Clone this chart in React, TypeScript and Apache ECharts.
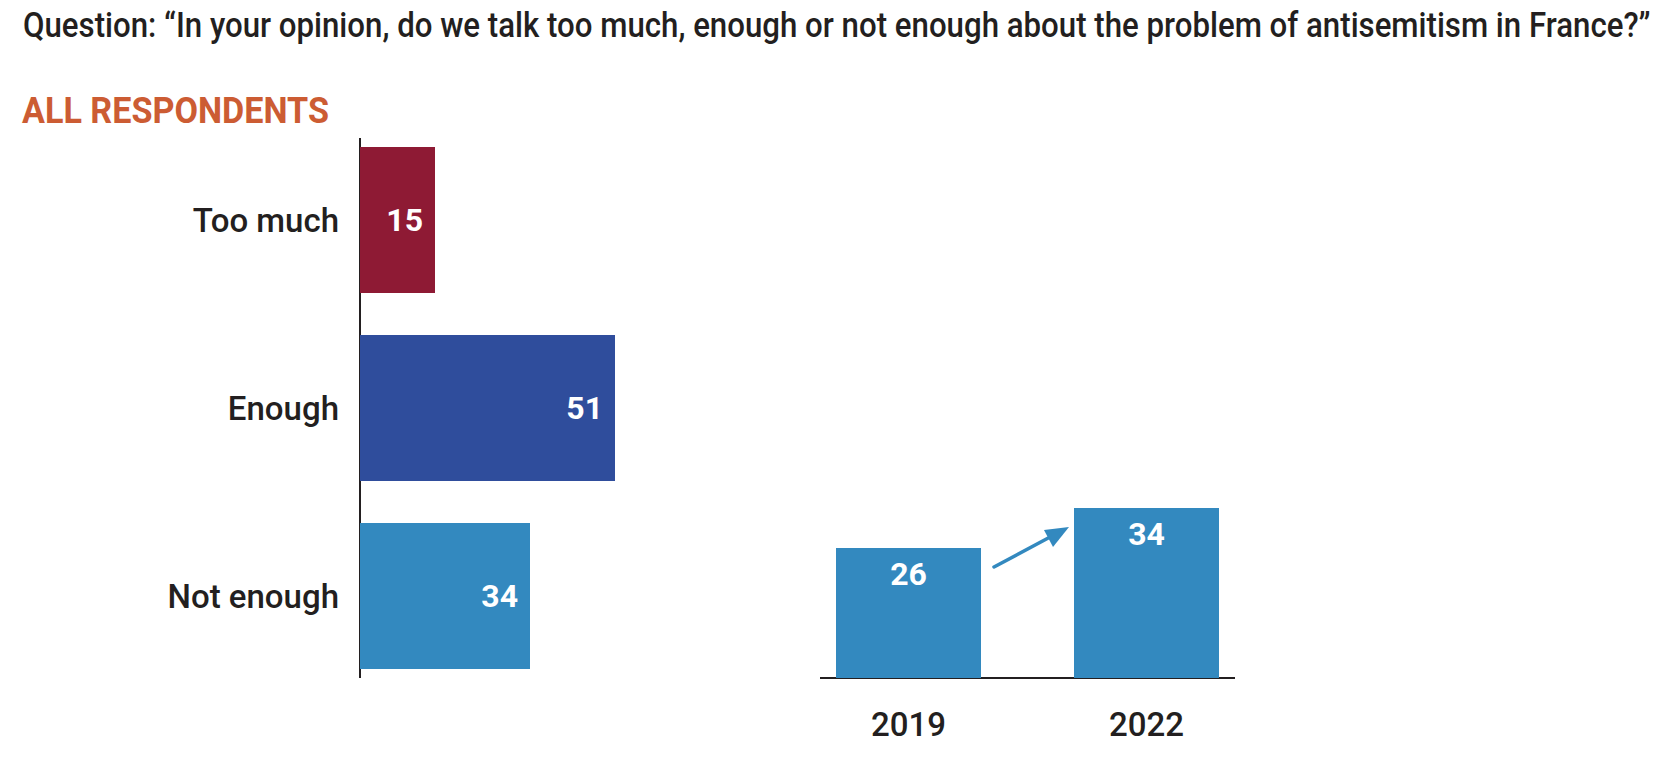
import React, { useEffect, useRef } from "react";
import * as echarts from "echarts";

const FONT = "Roboto, 'Liberation Sans', sans-serif";

const titleText =
  "Question: \u201cIn your opinion, do we talk too much, enough or not enough about the problem of antisemitism in France?\u201d";
const subtitleText = "ALL RESPONDENTS";

const answerCategories = ["Too much", "Enough", "Not enough"];
const answerValues = [15, 51, 34];
const answerColors = ["#8E1A34", "#2F4D9C", "#3389BF"];

const yearCategories = ["2019", "2022"];
const notEnoughByYear = [26, 34];
const yearColor = "#3389BF";

function measure(text: string, font: string): number {
  const c = document.createElement("canvas");
  const ctx = c.getContext("2d");
  if (!ctx) return 0;
  ctx.font = font;
  return ctx.measureText(text).width;
}

export default function App() {
  const ref = useRef<HTMLDivElement>(null);

  useEffect(() => {
    document.body.style.margin = "0";
    if (!ref.current) return;
    const chart = echarts.init(ref.current, undefined, { renderer: "svg" });
    const dark = "#231F20";

    const titleFont = "500 36px Roboto";
    const subFont = "bold 37px Roboto";
    const titleW = measure(titleText, titleFont) || 1627;
    const subW = measure(subtitleText, subFont) || 307;
    const titleScale = 1627 / titleW;
    const subScale = 307 / subW;

    chart.setOption({
      animation: false,
      backgroundColor: "#ffffff",
      grid: [
        { left: 360, top: 126, width: 500, height: 564 },
        { left: 789.5, width: 476, top: 178, height: 500 },
      ],
      xAxis: [
        { type: "value", gridIndex: 0, min: 0, max: 100, show: false },
        {
          type: "category",
          gridIndex: 1,
          data: yearCategories,
          axisLine: { show: false },
          axisTick: { show: false },
          axisLabel: {
            fontSize: 33,
            color: dark,
            fontFamily: FONT,
            fontWeight: 500,
            margin: 30,
          },
        },
      ],
      yAxis: [
        {
          type: "category",
          gridIndex: 0,
          data: answerCategories,
          inverse: true,
          axisLine: { show: false },
          axisTick: { show: false },
          axisLabel: {
            fontSize: 33,
            color: dark,
            fontFamily: FONT,
            fontWeight: 500,
            margin: 21,
          },
        },
        { type: "value", gridIndex: 1, min: 0, max: 100, show: false },
      ],
      series: [
        {
          type: "bar",
          xAxisIndex: 0,
          yAxisIndex: 0,
          barWidth: 146,
          data: answerValues.map((v, i) => ({
            value: v,
            itemStyle: { color: answerColors[i] },
          })),
          label: {
            show: true,
            position: "insideRight",
            distance: 12,
            color: "#ffffff",
            fontWeight: "bold",
            fontSize: 32,
            fontFamily: FONT,
          },
        },
        {
          type: "bar",
          xAxisIndex: 1,
          yAxisIndex: 1,
          barWidth: 145,
          data: notEnoughByYear,
          itemStyle: { color: yearColor },
          label: {
            show: true,
            position: "insideTop",
            distance: 10,
            color: "#ffffff",
            fontWeight: "bold",
            fontSize: 32,
            fontFamily: FONT,
          },
        },
      ],
      graphic: [
        {
          type: "text",
          x: 23,
          y: 25,
          scaleX: titleScale,
          style: {
            text: titleText,
            font: titleFont,
            fill: dark,
            align: "left",
            verticalAlign: "middle",
          },
        },
        {
          type: "text",
          x: 22,
          y: 110.5,
          scaleX: subScale,
          style: {
            text: subtitleText,
            font: subFont,
            fill: "#CC5C33",
            align: "left",
            verticalAlign: "middle",
          },
        },
        {
          type: "line",
          shape: { x1: 360, y1: 138, x2: 360, y2: 678 },
          style: { stroke: dark, lineWidth: 2 },
        },
        {
          type: "line",
          shape: { x1: 820, y1: 678, x2: 1235, y2: 678 },
          style: { stroke: dark, lineWidth: 2 },
        },
        {
          type: "line",
          shape: { x1: 994, y1: 567, x2: 1052, y2: 536 },
          style: { stroke: yearColor, lineWidth: 3.5, lineCap: "round" },
        },
        {
          type: "polygon",
          shape: {
            points: [
              [1069, 527],
              [1044, 530],
              [1053, 547],
            ],
          },
          style: { fill: yearColor },
        },
      ],
    });

    return () => chart.dispose();
  }, []);

  return <div ref={ref} style={{ width: 1664, height: 762 }} />;
}
